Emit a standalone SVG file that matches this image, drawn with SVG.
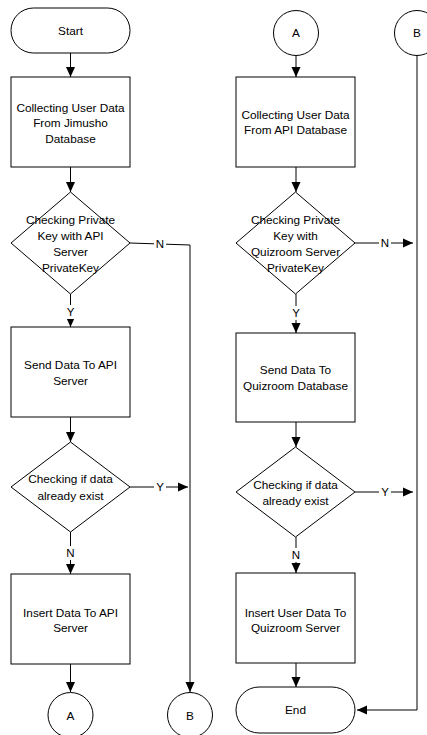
<svg xmlns="http://www.w3.org/2000/svg" width="427" height="735" viewBox="0 0 427 735">
<style>
.s{fill:#fff;stroke:#000;stroke-width:1}
.t{font-family:"Liberation Sans",Arial,sans-serif;font-size:11.8px;fill:#000;text-anchor:middle;dominant-baseline:central}
.c{fill:none;stroke:#000;stroke-width:1}
.l{font-family:"Liberation Sans",Arial,sans-serif;font-size:11.5px;fill:#000;text-anchor:middle;dominant-baseline:central}
.lb{fill:#fff}
</style>
<defs>
<marker id="ah" markerUnits="userSpaceOnUse" markerWidth="10" markerHeight="10" viewBox="0 0 10 10" refX="10" refY="5" orient="auto">
<path d="M0,0.5 L10,5 L0,9.5 z" fill="#000"/>
</marker>
</defs>
<rect width="427" height="735" fill="#fff"/>
<g id="connectors">
<line class="c" x1="70.5" y1="53" x2="70.5" y2="77" marker-end="url(#ah)"/>
<line class="c" x1="70.5" y1="167" x2="70.5" y2="192" marker-end="url(#ah)"/>
<line class="c" x1="70.5" y1="294" x2="70.5" y2="327" marker-end="url(#ah)"/>
<polyline class="c" points="130,243 190,245 190,692" marker-end="url(#ah)"/>
<line class="c" x1="70.5" y1="417" x2="70.5" y2="442" marker-end="url(#ah)"/>
<line class="c" x1="130" y1="487" x2="188" y2="487" marker-end="url(#ah)"/>
<line class="c" x1="70.5" y1="532" x2="70.5" y2="574" marker-end="url(#ah)"/>
<line class="c" x1="70.5" y1="664" x2="70.5" y2="692" marker-end="url(#ah)"/>
<line class="c" x1="296" y1="56" x2="296" y2="77" marker-end="url(#ah)"/>
<line class="c" x1="296" y1="167" x2="296" y2="192" marker-end="url(#ah)"/>
<line class="c" x1="355" y1="243" x2="413" y2="243" marker-end="url(#ah)"/>
<line class="c" x1="296" y1="294" x2="296" y2="333" marker-end="url(#ah)"/>
<line class="c" x1="296" y1="422" x2="296" y2="447" marker-end="url(#ah)"/>
<line class="c" x1="355" y1="492" x2="413" y2="492" marker-end="url(#ah)"/>
<line class="c" x1="296" y1="537" x2="296" y2="573" marker-end="url(#ah)"/>
<line class="c" x1="296" y1="663" x2="296" y2="687" marker-end="url(#ah)"/>
<polyline class="c" points="417,55 417,710 357,710" marker-end="url(#ah)"/>
<rect class="lb" x="154" y="237" width="12" height="14"/>
<text class="l" x="160" y="244">N</text>
<rect class="lb" x="64" y="305" width="12" height="14"/>
<text class="l" x="70.5" y="312">Y</text>
<rect class="lb" x="154" y="480" width="12" height="14"/>
<text class="l" x="160" y="487">Y</text>
<rect class="lb" x="64" y="546" width="12" height="14"/>
<text class="l" x="70.5" y="553">N</text>
<rect class="lb" x="379" y="236" width="12" height="14"/>
<text class="l" x="385" y="243">N</text>
<rect class="lb" x="290" y="306" width="12" height="14"/>
<text class="l" x="296" y="313">Y</text>
<rect class="lb" x="379" y="485" width="12" height="14"/>
<text class="l" x="385" y="492">Y</text>
<rect class="lb" x="290" y="548" width="12" height="14"/>
<text class="l" x="296" y="555">N</text>
</g>
<g id="start">
<rect class="s" x="11" y="8" width="119" height="45" rx="22.5"/>
<text class="t" x="70.5" y="30.5">Start</text>
</g>
<g id="collect-jimusho">
<rect class="s" x="11" y="77" width="119" height="90"/>
<text class="t" x="70.5" y="108">Collecting User Data</text>
<text class="t" x="70.5" y="123">From Jimusho</text>
<text class="t" x="70.5" y="139">Database</text>
</g>
<g id="check-key-api">
<polygon class="s" points="70.5,192 130,243 70.5,294 11,243"/>
<text class="t" x="70.5" y="220">Checking Private</text>
<text class="t" x="70.5" y="236">Key with API</text>
<text class="t" x="70.5" y="252">Server</text>
<text class="t" x="70.5" y="268">PrivateKey</text>
</g>
<g id="send-api">
<rect class="s" x="11" y="327" width="119" height="90"/>
<text class="t" x="70.5" y="365">Send Data To API</text>
<text class="t" x="70.5" y="381">Server</text>
</g>
<g id="check-exist-1">
<polygon class="s" points="70.5,442 130,487 70.5,532 11,487"/>
<text class="t" x="70.5" y="479">Checking if data</text>
<text class="t" x="70.5" y="496">already exist</text>
</g>
<g id="insert-api">
<rect class="s" x="11" y="574" width="119" height="90"/>
<text class="t" x="70.5" y="613">Insert Data To API</text>
<text class="t" x="70.5" y="628">Server</text>
</g>
<g id="conn-a-out">
<circle class="s" cx="70.5" cy="715" r="22.5"/>
<text class="t" x="70.5" y="716">A</text>
</g>
<g id="conn-b-out">
<circle class="s" cx="190" cy="715" r="22.5"/>
<text class="t" x="190" y="716">B</text>
</g>
<g id="conn-a-in">
<circle class="s" cx="296" cy="33" r="22.5"/>
<text class="t" x="296" y="33">A</text>
</g>
<g id="conn-b-in">
<circle class="s" cx="417" cy="33" r="22.5"/>
<text class="t" x="417" y="33">B</text>
</g>
<g id="collect-api">
<rect class="s" x="236" y="77" width="119" height="90"/>
<text class="t" x="295.5" y="115">Collecting User Data</text>
<text class="t" x="295.5" y="130">From API Database</text>
</g>
<g id="check-key-quizroom">
<polygon class="s" points="295.5,192 355,243 295.5,294 236,243"/>
<text class="t" x="295.5" y="220">Checking Private</text>
<text class="t" x="295.5" y="236">Key with</text>
<text class="t" x="295.5" y="252">Quizroom Server</text>
<text class="t" x="295.5" y="268">PrivateKey</text>
</g>
<g id="send-quizroom">
<rect class="s" x="236" y="333" width="119" height="89"/>
<text class="t" x="295.5" y="370">Send Data To</text>
<text class="t" x="295.5" y="386">Quizroom Database</text>
</g>
<g id="check-exist-2">
<polygon class="s" points="295.5,447 355,492 295.5,537 236,492"/>
<text class="t" x="295.5" y="485">Checking if data</text>
<text class="t" x="295.5" y="501">already exist</text>
</g>
<g id="insert-quizroom">
<rect class="s" x="236" y="573" width="119" height="90"/>
<text class="t" x="295.5" y="613">Insert User Data To</text>
<text class="t" x="295.5" y="628">Quizroom Server</text>
</g>
<g id="end">
<rect class="s" x="236" y="687" width="119" height="46" rx="23"/>
<text class="t" x="295.5" y="710">End</text>
</g>
</svg>
